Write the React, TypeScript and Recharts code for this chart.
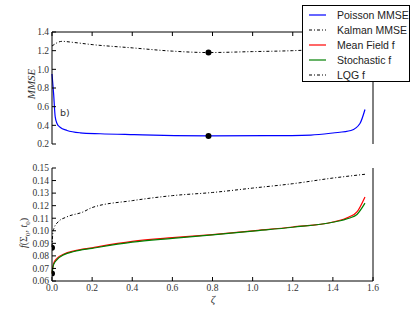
import React from "react";
import { LineChart, Line, XAxis, YAxis, ReferenceDot } from "recharts";

// top panel: MMSE vs zeta
const zetaPoisson = [0, 0.008, 0.016, 0.025, 0.04, 0.075, 0.14, 0.24, 0.41, 0.61, 0.78, 1.07, 1.29, 1.4, 1.49, 1.535, 1.56];
const poissonMMSE = [0.95, 0.74, 0.49, 0.42, 0.38, 0.345, 0.32, 0.31, 0.3, 0.29, 0.287, 0.289, 0.296, 0.318, 0.345, 0.42, 0.57];

const zetaKalman = [0, 0.05, 0.1, 0.2, 0.4, 0.6, 0.78, 1.0, 1.2, 1.3, 1.4, 1.5, 1.56];
const kalmanMMSE = [1.25, 1.3, 1.29, 1.265, 1.23, 1.195, 1.18, 1.19, 1.2, 1.21, 1.23, 1.26, 1.3];

// bottom panel: f(Sigma_0, t_0) vs zeta
const zetaF = [0, 0.008, 0.025, 0.06, 0.11, 0.2, 0.4, 0.6, 0.8, 1.0, 1.2, 1.4, 1.48, 1.52, 1.56];
const meanFieldF = [0.066, 0.074, 0.078, 0.0815, 0.084, 0.0865, 0.0915, 0.0945, 0.097, 0.1, 0.103, 0.107, 0.111, 0.115, 0.127];
const stochasticF = [0.066, 0.073, 0.077, 0.081, 0.0835, 0.086, 0.091, 0.094, 0.0968, 0.0998, 0.1028, 0.1068, 0.11, 0.113, 0.122];

const zetaLQG = [0, 0.004, 0.01, 0.03, 0.073, 0.155, 0.2, 0.4, 0.6, 0.8, 1.0, 1.2, 1.4, 1.56];
const lqgF = [0.087, 0.098, 0.102, 0.107, 0.111, 0.115, 0.1185, 0.124, 0.128, 0.1305, 0.134, 0.1375, 0.142, 0.145];

const topDots = [
  { x: 0.78, y: 1.18 },
  { x: 0.78, y: 0.287 },
];
const bottomDots = [
  { x: 0, y: 0.0865 },
  { x: 0, y: 0.066 },
];

const xTicks = [0, 0.2, 0.4, 0.6, 0.8, 1.0, 1.2, 1.4, 1.6];
const topYTicks = [0.2, 0.4, 0.6, 0.8, 1.0, 1.2, 1.4];
const bottomYTicks = [0.06, 0.07, 0.08, 0.09, 0.1, 0.11, 0.12, 0.13, 0.14, 0.15];

const legendItems = [
  { name: "Poisson MMSE", color: "#0000ff", dash: undefined },
  { name: "Kalman MMSE", color: "#000", dash: "3 2 1 2" },
  { name: "Mean Field f", color: "#ff0000", dash: undefined },
  { name: "Stochastic f", color: "#008000", dash: undefined },
  { name: "LQG f", color: "#000", dash: "3 2 1 2" },
];

const zip = (xs: number[], ys: number[]) => xs.map((x, i) => ({ x, y: ys[i] }));

const serif = "'Liberation Serif', 'DejaVu Serif', serif";
const tickStyle = { fill: "#333", fontSize: 9.5, fontFamily: serif };
const DASH = "3 2 1 2";
const blank = () => "";

export default function App() {
  return (
    <div style={{ position: "absolute", left: 0, top: 0, width: 415, height: 312, background: "#fff" }}>
      <div style={{ position: "absolute", left: 0, top: 0 }}>
        <LineChart width={415} height={160} margin={{ top: 22, right: 32, bottom: 16, left: 12 }}>
          <XAxis
            xAxisId="t"
            type="number"
            dataKey="x"
            orientation="top"
            domain={[0, 1.6]}
            ticks={xTicks}
            interval={0}
            height={10}
            tickSize={-4}
            tickFormatter={blank}
            stroke="#000"
          />
          <YAxis
            yAxisId="l"
            type="number"
            domain={[0.2, 1.4]}
            ticks={topYTicks}
            interval={0}
            width={40}
            tickSize={-4}
            tickMargin={7}
            tick={tickStyle}
            tickFormatter={(v: number) => v.toFixed(1)}
            stroke="#000"
          />
          <YAxis
            yAxisId="r"
            orientation="right"
            type="number"
            domain={[0.2, 1.4]}
            ticks={topYTicks}
            interval={0}
            width={10}
            tickSize={-4}
            tickFormatter={blank}
            stroke="#000"
          />
          <Line
            xAxisId="t"
            yAxisId="l"
            data={zip(zetaKalman, kalmanMMSE)}
            dataKey="y"
            type="monotone"
            stroke="#000"
            strokeWidth={1}
            strokeDasharray={DASH}
            dot={false}
            isAnimationActive={false}
          />
          <Line
            xAxisId="t"
            yAxisId="l"
            data={zip(zetaPoisson, poissonMMSE)}
            dataKey="y"
            type="monotone"
            stroke="#0000ff"
            strokeWidth={1.2}
            dot={false}
            isAnimationActive={false}
          />
          {topDots.map((d, i) => (
            <ReferenceDot key={i} xAxisId="t" yAxisId="l" x={d.x} y={d.y} r={3} fill="#000" stroke="none" />
          ))}
        </LineChart>
      </div>

      <div style={{ position: "absolute", left: 0, top: 160 }}>
        <LineChart width={415} height={152} margin={{ top: 8, right: 32, bottom: 11, left: 12 }}>
          <XAxis
            xAxisId="b"
            type="number"
            dataKey="x"
            domain={[0, 1.6]}
            ticks={xTicks}
            interval={0}
            height={20}
            tickSize={-4}
            tickMargin={7}
            tick={tickStyle}
            tickFormatter={(v: number) => v.toFixed(1)}
            stroke="#000"
          />
          <YAxis
            yAxisId="l"
            type="number"
            domain={[0.06, 0.15]}
            ticks={bottomYTicks}
            interval={0}
            width={40}
            tickSize={-4}
            tickMargin={7}
            tick={tickStyle}
            tickFormatter={(v: number) => v.toFixed(2)}
            stroke="#000"
          />
          <YAxis
            yAxisId="r"
            orientation="right"
            type="number"
            domain={[0.06, 0.15]}
            ticks={bottomYTicks}
            interval={0}
            width={10}
            tickSize={-4}
            tickFormatter={blank}
            stroke="#000"
          />
          <Line
            xAxisId="b"
            yAxisId="l"
            data={zip(zetaLQG, lqgF)}
            dataKey="y"
            type="monotone"
            stroke="#000"
            strokeWidth={1}
            strokeDasharray={DASH}
            dot={false}
            isAnimationActive={false}
          />
          <Line
            xAxisId="b"
            yAxisId="l"
            data={zip(zetaF, meanFieldF)}
            dataKey="y"
            type="monotone"
            stroke="#ff0000"
            strokeWidth={1.2}
            dot={false}
            isAnimationActive={false}
          />
          <Line
            xAxisId="b"
            yAxisId="l"
            data={zip(zetaF, stochasticF)}
            dataKey="y"
            type="monotone"
            stroke="#008000"
            strokeWidth={1.2}
            dot={false}
            isAnimationActive={false}
          />
          {bottomDots.map((d, i) => (
            <ReferenceDot
              key={i}
              xAxisId="b"
              yAxisId="l"
              x={d.x}
              y={d.y}
              r={3}
              fill="#000"
              stroke="none"
              ifOverflow="hidden"
            />
          ))}
        </LineChart>
      </div>

      {/* axis labels */}
      <div
        style={{
          position: "absolute",
          left: 31,
          top: 84,
          transform: "translate(-50%, -50%) rotate(-90deg)",
          fontFamily: serif,
          fontStyle: "italic",
          fontSize: 11,
          lineHeight: 1,
          color: "#333",
          whiteSpace: "nowrap",
        }}
      >
        MMSE
      </div>
      <div
        style={{
          position: "absolute",
          left: 25,
          top: 233,
          transform: "translate(-50%, -50%) rotate(-90deg)",
          fontFamily: serif,
          fontSize: 10,
          lineHeight: 1,
          color: "#333",
          whiteSpace: "nowrap",
        }}
      >
        <i>f</i>(Σ<sub style={{ fontSize: 7 }}>0</sub>, <i>t</i>
        <sub style={{ fontSize: 7 }}>0</sub>)
      </div>
      <div
        style={{
          position: "absolute",
          left: 213,
          top: 299,
          transform: "translate(-50%, -50%)",
          fontFamily: serif,
          fontStyle: "italic",
          fontSize: 11,
          lineHeight: 1,
          color: "#333",
        }}
      >
        ζ
      </div>
      <div
        style={{
          position: "absolute",
          left: 60,
          top: 108,
          fontFamily: "'DejaVu Sans', sans-serif",
          fontSize: 9.5,
          lineHeight: 1,
          color: "#333",
        }}
      >
        b)
      </div>

      {/* legend */}
      <div
        style={{
          position: "absolute",
          left: 302,
          top: 5,
          width: 106,
          height: 75,
          background: "#fff",
          border: "1px solid #000",
          fontFamily: "'Liberation Sans', Arial, sans-serif",
          fontSize: 10.5,
          color: "#222",
        }}
      >
        {legendItems.map((it, i) => (
          <div key={it.name} style={{ position: "absolute", left: 6, top: 1 + i * 15, height: 15, display: "flex", alignItems: "center" }}>
            <svg width={17} height={4} style={{ marginRight: 11 }}>
              <line x1={0} y1={2} x2={17} y2={2} stroke={it.color} strokeWidth={1.2} strokeDasharray={it.dash} />
            </svg>
            <span style={{ whiteSpace: "nowrap" }}>{it.name}</span>
          </div>
        ))}
      </div>
    </div>
  );
}
